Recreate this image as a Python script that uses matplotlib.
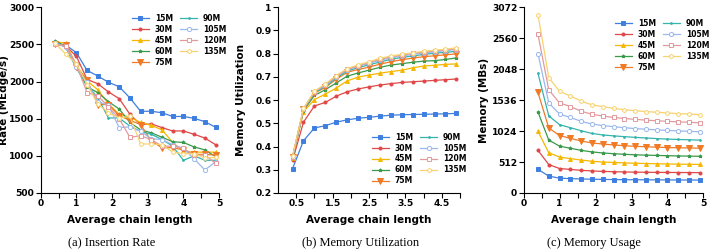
import matplotlib.pyplot as plt
import numpy as np

# ===========================================================
# Données
# ===========================================================

chain = [0.4, 0.7, 1.0, 1.3, 1.6, 1.9, 2.2, 2.5, 2.8, 3.1, 3.4, 3.7, 4.0, 4.3, 4.6, 4.9]
sizes = ['15M', '30M', '45M', '60M', '75M', '90M', '105M', '120M', '135M']

# (a) Insertion rate (MEdge/s)
rate_15 = [2520, 2490, 2390, 2150, 2075, 1990, 1930, 1780, 1600, 1600, 1580, 1530, 1530, 1505, 1460, 1385]
rate_30 = [2500, 2480, 2340, 2030, 1970, 1860, 1770, 1560, 1420, 1430, 1380, 1335, 1335, 1290, 1240, 1150]
rate_45 = [2530, 2520, 2220, 2010, 1890, 1700, 1560, 1520, 1450, 1410, 1350, 1180, 1060, 1050, 1050, 1050]
rate_60 = [2550, 2470, 2200, 1930, 1850, 1730, 1630, 1450, 1350, 1310, 1250, 1190, 1180, 1120, 1080, 990]
rate_75 = [2500, 2490, 2200, 2020, 1690, 1690, 1540, 1480, 1420, 1200, 1110, 1110, 1080, 1020, 1020, 1010]
rate_90 = [2530, 2460, 2180, 1960, 1780, 1510, 1510, 1400, 1330, 1290, 1220, 1130, 940, 1000, 940, 940]
rate_105 = [2520, 2470, 2190, 1990, 1730, 1680, 1380, 1390, 1330, 1230, 1220, 1150, 1100, 960, 810, 920]
rate_120 = [2500, 2480, 2230, 1850, 1810, 1660, 1500, 1250, 1270, 1220, 1130, 1130, 1100, 1010, 1010, 900]
rate_135 = [2520, 2370, 2240, 1960, 1700, 1580, 1510, 1530, 1160, 1160, 1150, 1050, 1030, 1030, 970, 980]

# (b) Memory utilization
util_15 = [0.305, 0.425, 0.48, 0.49, 0.505, 0.515, 0.522, 0.526, 0.531, 0.535, 0.537, 0.538, 0.539, 0.540, 0.541, 0.543]
util_30 = [0.34, 0.505, 0.575, 0.59, 0.617, 0.636, 0.648, 0.657, 0.665, 0.671, 0.676, 0.679, 0.682, 0.685, 0.688, 0.691]
util_45 = [0.35, 0.55, 0.602, 0.626, 0.652, 0.683, 0.699, 0.708, 0.716, 0.723, 0.729, 0.739, 0.747, 0.750, 0.754, 0.756]
util_60 = [0.35, 0.555, 0.62, 0.645, 0.674, 0.703, 0.717, 0.729, 0.741, 0.751, 0.757, 0.763, 0.768, 0.770, 0.775, 0.782]
util_75 = [0.355, 0.56, 0.63, 0.655, 0.69, 0.72, 0.732, 0.742, 0.755, 0.765, 0.774, 0.781, 0.787, 0.791, 0.795, 0.799]
util_90 = [0.355, 0.56, 0.632, 0.66, 0.695, 0.725, 0.74, 0.752, 0.764, 0.776, 0.784, 0.790, 0.797, 0.802, 0.806, 0.810]
util_105 = [0.355, 0.562, 0.635, 0.665, 0.70, 0.73, 0.745, 0.758, 0.772, 0.782, 0.79, 0.797, 0.803, 0.808, 0.813, 0.818]
util_120 = [0.357, 0.563, 0.636, 0.667, 0.703, 0.732, 0.748, 0.762, 0.776, 0.786, 0.794, 0.801, 0.807, 0.812, 0.816, 0.822]
util_135 = [0.36, 0.565, 0.638, 0.670, 0.706, 0.736, 0.752, 0.765, 0.780, 0.790, 0.797, 0.804, 0.810, 0.815, 0.819, 0.825]

# (c) Memory usage (MBs)
mem_15 = [390, 280, 245, 238, 232, 228, 225, 222, 220, 219, 218, 217, 216, 215, 215, 214]
mem_30 = [705, 470, 405, 390, 375, 365, 357, 352, 348, 345, 343, 341, 340, 339, 338, 337]
mem_45 = [1020, 665, 595, 568, 545, 525, 512, 505, 498, 492, 487, 483, 480, 477, 475, 472]
mem_60 = [1340, 875, 775, 740, 705, 680, 662, 650, 640, 632, 626, 621, 617, 613, 610, 607]
mem_75 = [1665, 1075, 950, 905, 860, 828, 810, 795, 782, 772, 765, 758, 752, 748, 745, 742]
mem_90 = [1980, 1275, 1130, 1080, 1030, 985, 960, 945, 932, 920, 910, 900, 892, 885, 880, 875]
mem_105 = [2305, 1490, 1305, 1250, 1185, 1142, 1115, 1097, 1080, 1065, 1055, 1045, 1035, 1027, 1020, 1013]
mem_120 = [2625, 1705, 1490, 1430, 1352, 1302, 1273, 1250, 1232, 1218, 1205, 1195, 1185, 1177, 1170, 1160]
mem_135 = [2950, 1910, 1680, 1605, 1520, 1458, 1428, 1400, 1378, 1360, 1347, 1335, 1323, 1313, 1305, 1296]

rates = [rate_15, rate_30, rate_45, rate_60, rate_75, rate_90, rate_105, rate_120, rate_135]
utils = [util_15, util_30, util_45, util_60, util_75, util_90, util_105, util_120, util_135]
mems = [mem_15, mem_30, mem_45, mem_60, mem_75, mem_90, mem_105, mem_120, mem_135]

# ===========================================================
# Styles
# ===========================================================

colors = ['#3f7fe0', '#e04848', '#f5b700', '#3a9a4c', '#f07a26',
          '#35b5ad', '#9bb9ee', '#e39a9e', '#f7d26e']
markers = ['s', 'o', '^', '*', 'v', '.', 'o', 's', 'h']
msizes = [2.2, 2.2, 2.8, 2.5, 3.8, 2.5, 3.0, 3.0, 3.0]
hollow = [False, False, False, False, False, False, True, True, True]

plt.rcParams['font.family'] = 'DejaVu Sans'
plt.rcParams['font.weight'] = 'bold'

fig = plt.figure(figsize=(7.11, 2.5), dpi=100)
ax_a = fig.add_axes([0.0572, 0.228, 0.251, 0.743])
ax_b = fig.add_axes([0.391, 0.228, 0.256, 0.743])
ax_c = fig.add_axes([0.7364, 0.228, 0.253, 0.743])

leg_opts = dict(ncol=2, frameon=False, handlelength=2.2, columnspacing=0.9,
                labelspacing=0.25, handletextpad=0.8, borderaxespad=0,
                prop={'weight': 'bold', 'size': 5.5})


def draw(ax, series):
    for i, ys in enumerate(series):
        face = 'white' if hollow[i] else colors[i]
        ax.plot(chain, ys, color=colors[i], marker=markers[i], ms=msizes[i],
                mfc=face, mec=colors[i], mew=0.7, lw=0.9, label=sizes[i])
    ax.spines['top'].set_visible(False)
    ax.spines['right'].set_visible(False)
    ax.tick_params(labelsize=6.6, length=3.5, width=0.8, pad=1, direction='out')
    ax.tick_params(which='minor', length=3.5, width=0.8)
    ax.set_xlim(0, 5)
    ax.set_xlabel('Average chain length', fontsize=7.5, fontweight='bold', labelpad=5)


# (a)
draw(ax_a, rates)
ax_a.set_ylim(500, 3000)
ax_a.set_yticks(np.arange(500, 3001, 500))
ax_a.set_xticks(np.arange(0, 6, 1))
ax_a.set_xticks(np.arange(0.5, 5, 1), minor=True)
ax_a.set_ylabel('Rate (MEdge/s)', fontsize=7.5, fontweight='bold')
ax_a.yaxis.set_label_coords(-0.175, 0.5)
ax_a.legend(loc='upper left', bbox_to_anchor=(0.495, 0.98), **leg_opts)

# (b)
draw(ax_b, utils)
ax_b.set_ylim(0.2, 1.0)
ax_b.set_yticks(np.arange(0.2, 1.01, 0.1))
ax_b.set_yticklabels(['0.2', '0.3', '0.4', '0.5', '0.6', '0.7', '0.8', '0.9', '1'])
ax_b.set_xticks(np.arange(0.5, 5, 1))
ax_b.set_xticks(np.arange(1, 5.1, 1), minor=True)
ax_b.set_ylabel('Memory Utilization', fontsize=7.5, fontweight='bold')
ax_b.yaxis.set_label_coords(-0.176, 0.5)
ax_b.legend(loc='lower left', bbox_to_anchor=(0.5, 0.025), **leg_opts)

# (c)
draw(ax_c, mems)
ax_c.set_ylim(0, 3072)
ax_c.set_yticks(np.arange(0, 3073, 512))
ax_c.set_xticks(np.arange(0, 6, 1))
ax_c.set_xticks(np.arange(0.5, 5, 1), minor=True)
ax_c.set_ylabel('Memory (MBs)', fontsize=7.5, fontweight='bold')
ax_c.yaxis.set_label_coords(-0.19, 0.5)
ax_c.legend(loc='upper left', bbox_to_anchor=(0.491, 0.953), **leg_opts)

for ax in (ax_a, ax_b, ax_c):
    for lab in ax.get_xticklabels() + ax.get_yticklabels():
        lab.set_fontweight('bold')

# Légendes sous les sous-figures
cap = dict(fontsize=9, family='Liberation Serif', fontweight='normal',
           ha='center', va='center')
fig.text(112 / 711, 1 - 243 / 250, '(a) Insertion Rate', **cap)
fig.text(361 / 711, 1 - 243 / 250, '(b) Memory Utilization', **cap)
fig.text(594 / 711, 1 - 243 / 250, '(c) Memory Usage', **cap)

fig.savefig('out.png', dpi=100)
